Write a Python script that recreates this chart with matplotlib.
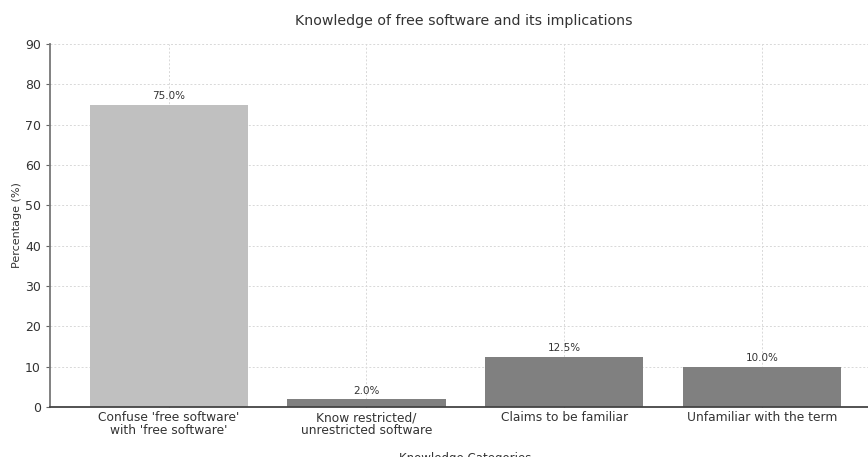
import matplotlib.pyplot as plt

categories = ["Confuse 'free software'\nwith 'free software'",
              "Know restricted/\nunrestricted software",
              "Claims to be familiar",
              "Unfamiliar with the term"]
values = [75.0, 2.0, 12.5, 10.0]
colors = ['#c0c0c0', '#808080', '#808080', '#808080']

fig = plt.figure(figsize=(8.68, 4.57), dpi=100)
ax = fig.add_axes([0.0576, 0.1094, 0.957, 0.7943])

bars = ax.bar(range(len(values)), values, color=colors, width=0.8, zorder=2)
for b, v in zip(bars, values):
    ax.text(b.get_x() + b.get_width() / 2, v + 0.8, f'{v:.1f}%',
            ha='center', va='bottom', fontsize=7.5, color='#333333')

ax.set_xlim(-0.6, 3.6)
ax.set_ylim(0, 90)
ax.set_xticks(range(len(values)))
ax.set_xticklabels(categories, fontsize=8.8, color='#333333', linespacing=0.95)
ax.set_yticks(range(0, 91, 10))
ax.tick_params(axis='y', labelsize=9, colors='#333333', length=3, color='#666666')
ax.tick_params(axis='x', direction='in', length=3, color='#666666', pad=3)

ax.grid(True, color='#d8d8d8', linestyle=(0, (2, 2)), linewidth=0.7, zorder=0)
ax.spines['top'].set_visible(False)
ax.spines['right'].set_visible(False)
ax.spines['left'].set_color('#777777')
ax.spines['bottom'].set_color('#444444')
ax.spines['left'].set_linewidth(1.3)
ax.spines['bottom'].set_linewidth(1.3)

ax.set_ylabel('Percentage (%)', fontsize=8, color='#333333', labelpad=2)
ax.set_xlabel('Knowledge Categories', fontsize=8.5, color='#333333', labelpad=11)
fig.text(0.534, 0.955, 'Knowledge of free software and its implications',
         ha='center', va='center', fontsize=10.2, color='#333333')

fig.savefig('out.png', dpi=100)
